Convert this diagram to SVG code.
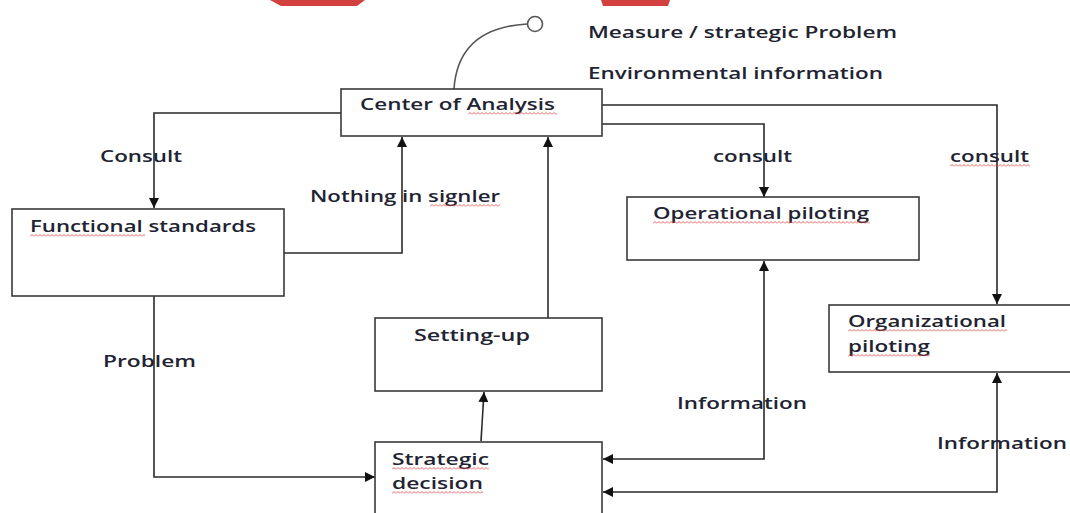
<svg xmlns="http://www.w3.org/2000/svg" width="1070" height="513" viewBox="0 0 1070 513">
<style>
.box{fill:#fff;stroke:#3a3a3a;stroke-width:1.6}
.t{font-family:"Open Sans","Liberation Sans",sans-serif;font-size:16px;font-weight:600;fill:#1f2433}
.c{fill:none;stroke:#2a2a2a;stroke-width:1.6}
</style>
<defs>
<marker id="ah" viewBox="0 0 10 10" refX="10" refY="5" markerWidth="10" markerHeight="10" markerUnits="userSpaceOnUse" orient="auto-start-reverse">
<path d="M0,0 L10,5 L0,10 z" fill="#111"/>
</marker>
<pattern id="sq" width="4" height="3" patternUnits="userSpaceOnUse">
<path d="M0,2.5 L2,0.5 L4,2.5" fill="none" stroke="#e03a3a" stroke-width="0.8"/>
</pattern>
</defs>
<rect width="1070" height="513" fill="#fff"/>
<polygon points="270,0 365,0 357,6 281,6" fill="#d24040"/>
<polygon points="601,0 670,0 668,6 603,6" fill="#d24040"/>

<g id="connectors">
<path class="c" d="M341,113 H154 V208" marker-end="url(#ah)"/>
<path class="c" d="M284,253 H402 V137" marker-end="url(#ah)"/>
<path class="c" d="M548,318 V137" marker-end="url(#ah)"/>
<path class="c" d="M481,441 L484,392" marker-end="url(#ah)"/>
<path class="c" d="M154,296 V477 H375" marker-end="url(#ah)"/>
<path class="c" d="M602,124 H764 V197" marker-end="url(#ah)"/>
<path class="c" d="M602,105 H997 V304" marker-end="url(#ah)"/>
<path class="c" d="M603,459 H764 V261" marker-start="url(#ah)" marker-end="url(#ah)"/>
<path class="c" d="M603,492 H997 V373" marker-start="url(#ah)" marker-end="url(#ah)"/>
<path d="M454,89 Q458,28 527,24" fill="none" stroke="#555" stroke-width="1.6"/>
</g>

<g id="measure">
<circle cx="535" cy="24" r="7.5" fill="#fff" stroke="#555" stroke-width="1.6"/>
<text class="t" x="588" y="38" textLength="309" lengthAdjust="spacingAndGlyphs">Measure / strategic Problem</text>
<text class="t" x="588" y="79" textLength="295" lengthAdjust="spacingAndGlyphs">Environmental information</text>
</g>

<g id="center">
<rect class="box" x="341" y="89" width="261" height="47"/>
<text class="t" x="360" y="110" textLength="195" lengthAdjust="spacingAndGlyphs">Center of Analysis</text>
<rect transform="translate(468,112)" width="89" height="3" fill="url(#sq)"/>
</g>

<g id="functional">
<rect class="box" x="12" y="209" width="272" height="87"/>
<text class="t" x="30" y="232" textLength="226" lengthAdjust="spacingAndGlyphs">Functional standards</text>
<rect transform="translate(30,234)" width="115" height="3" fill="url(#sq)"/>
</g>

<g id="operational">
<rect class="box" x="627" y="197" width="292" height="63"/>
<text class="t" x="653" y="219" textLength="216" lengthAdjust="spacingAndGlyphs">Operational piloting</text>
<rect transform="translate(653,221)" width="217" height="3" fill="url(#sq)"/>
</g>

<g id="organizational">
<rect class="box" x="829" y="305" width="250" height="67"/>
<text class="t" x="848" y="327" textLength="158" lengthAdjust="spacingAndGlyphs">Organizational</text>
<text class="t" x="848" y="352" textLength="82" lengthAdjust="spacingAndGlyphs">piloting</text>
<rect transform="translate(848,329)" width="159" height="3" fill="url(#sq)"/>
<rect transform="translate(848,354)" width="82" height="3" fill="url(#sq)"/>
</g>

<g id="setting-up">
<rect class="box" x="375" y="318" width="227" height="73"/>
<text class="t" x="414" y="341" textLength="116" lengthAdjust="spacingAndGlyphs">Setting-up</text>
</g>

<g id="strategic">
<rect class="box" x="375" y="442" width="227" height="80"/>
<text class="t" x="392" y="465" textLength="97" lengthAdjust="spacingAndGlyphs">Strategic</text>
<text class="t" x="392" y="489" textLength="91" lengthAdjust="spacingAndGlyphs">decision</text>
<rect transform="translate(392,467)" width="97" height="3" fill="url(#sq)"/>
<rect transform="translate(392,491)" width="91" height="3" fill="url(#sq)"/>
</g>

<g id="labels">
<text class="t" x="100" y="162" textLength="82" lengthAdjust="spacingAndGlyphs">Consult</text>
<text class="t" x="713" y="162" textLength="79" lengthAdjust="spacingAndGlyphs">consult</text>
<text class="t" x="950" y="162" textLength="79" lengthAdjust="spacingAndGlyphs">consult</text>
<rect transform="translate(950,164)" width="80" height="3" fill="url(#sq)"/>
<text class="t" x="310" y="202" textLength="190" lengthAdjust="spacingAndGlyphs">Nothing in signler</text>
<rect transform="translate(430,204)" width="70" height="3" fill="url(#sq)"/>
<text class="t" x="103" y="367" textLength="93" lengthAdjust="spacingAndGlyphs">Problem</text>
<text class="t" x="677" y="409" textLength="130" lengthAdjust="spacingAndGlyphs">Information</text>
<text class="t" x="937" y="449" textLength="130" lengthAdjust="spacingAndGlyphs">Information</text>
</g>
</svg>
